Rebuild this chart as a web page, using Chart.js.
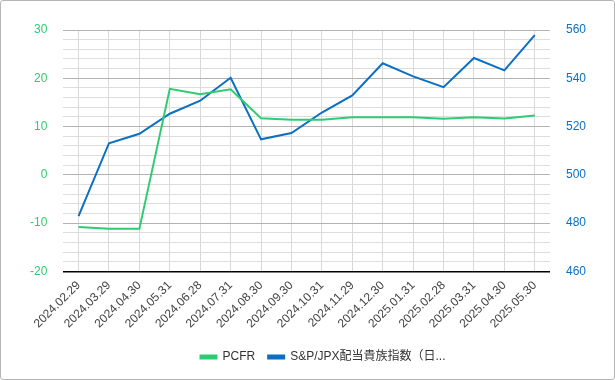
<!DOCTYPE html>
<html>
<head>
<meta charset="utf-8">
<script src="https://cdn.jsdelivr.net/npm/chart.js@4"></script>
<style>
  body { margin: 0; background: #fff; }
  #wrap { width: 613px; height: 378px; border: 1px solid #b5b5b5; border-radius: 3px; }
</style>
</head>
<body>
<div id="wrap"><canvas id="chart" width="613" height="378"></canvas></div>
<script>
const labels = ['2024.02.29', '2024.03.29', '2024.04.30', '2024.05.31', '2024.06.28', '2024.07.31',
    '2024.08.30', '2024.09.30', '2024.10.31', '2024.11.29', '2024.12.30', '2025.01.31',
    '2025.02.28', '2025.03.31', '2025.04.30', '2025.05.30'];
const pcfr = [-10.8, -11.2, -11.2, 17.8, 16.7, 17.7, 11.7, 11.4, 11.4, 11.9, 11.9, 11.9, 11.6, 11.9, 11.65, 12.3];
const aristocrats = [482.9, 513.1, 517.0, 525.3, 530.7, 540.2, 514.7, 517.3, 525.8, 532.9, 546.2, 540.8, 536.3, 548.4, 543.3, 557.9];
const leftTicks = [-20, 30, 10];
const rightTicks = [460, 560, 20];

const green = '#2ecc71';
const blue = '#0b6fc2';
const font = { family: "'Liberation Sans', Arial, 'Noto Sans CJK JP', sans-serif", size: 12 };

// nudge the legend a bit to the right, like the original
const legendShift = {
    id: 'legendShift',
    afterLayout(chart) {
        chart.legend.left += 15;
        chart.legend.right += 15;
    }
};

const ctx = document.getElementById('chart').getContext('2d');
const chart = new Chart(ctx, {
    type: 'line',
    data: {
        labels: labels,
        datasets: [{
            label: 'PCFR',
            data: pcfr,
            borderColor: green,
            backgroundColor: green,
            borderWidth: 2,
            pointRadius: 0,
            tension: 0,
            yAxisID: 'y'
        },
        {
            label: 'S&P/JPX配当貴族指数（日...',
            data: aristocrats,
            borderColor: blue,
            backgroundColor: blue,
            borderWidth: 2,
            pointRadius: 0,
            tension: 0,
            yAxisID: 'y1'
        }]
    },
    plugins: [legendShift],
    options: {
        responsive: false,
        animation: false,
        layout: { padding: { top: 29, left: 13, right: 12, bottom: 6 } },
        plugins: {
            legend: {
                position: 'bottom',
                labels: { boxWidth: 16, boxHeight: 3, color: '#333', font: font, padding: 13 }
            },
            tooltip: { enabled: false }
        },
        scales: {
            x: {
                offset: true,
                grid: { color: '#d9d9d9', drawTicks: false, offset: false },
                border: { color: '#000', width: 1.5 },
                ticks: { color: '#444', font: font, maxRotation: 45, minRotation: 45, padding: 7, autoSkip: false }
            },
            y: {
                position: 'left',
                min: leftTicks[0],
                max: leftTicks[1],
                ticks: {
                    stepSize: 2,
                    color: green,
                    font: font,
                    padding: 16,
                    autoSkip: false,
                    callback: v => (v % leftTicks[2] === 0 ? String(v) : '')
                },
                border: { display: false },
                grid: {
                    drawTicks: false,
                    color: c => (c.tick && c.tick.value % leftTicks[2] === 0 ? '#b3b3b3' : '#dddddd')
                }
            },
            y1: {
                position: 'right',
                min: rightTicks[0],
                max: rightTicks[1],
                ticks: { stepSize: rightTicks[2], color: blue, font: font, padding: 16 },
                border: { display: false },
                grid: { display: false, drawTicks: false }
            }
        }
    }
});
</script>
</body>
</html>
